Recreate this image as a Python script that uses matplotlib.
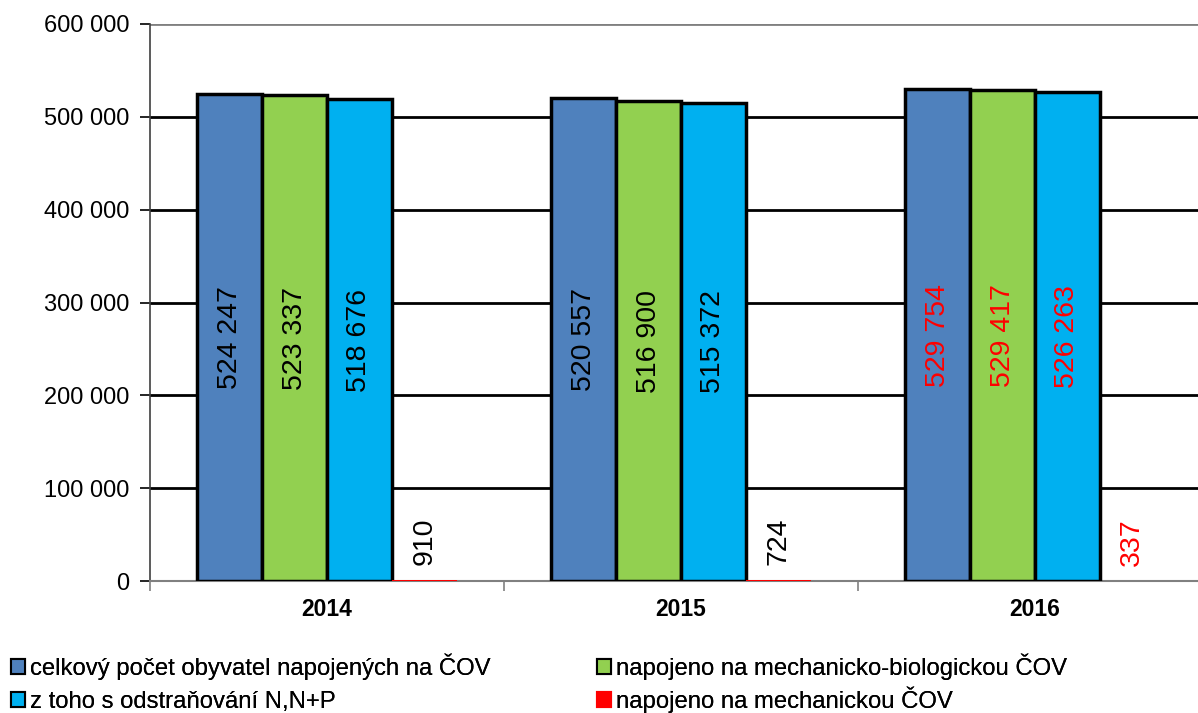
import matplotlib
matplotlib.use("Agg")
import matplotlib.pyplot as plt
import numpy as np
from matplotlib.patches import Patch

plt.rcParams['font.family'] = ['Liberation Sans', 'DejaVu Sans']

years = ['2014', '2015', '2016']
series_names = ['celkový počet obyvatel napojených na ČOV',
                'napojeno na mechanicko-biologickou ČOV',
                'z toho s odstraňování N,N+P',
                'napojeno na mechanickou ČOV']
total = [524247, 520557, 529754]
mech_bio = [523337, 516900, 529417]
n_np = [518676, 515372, 526263]
mech = [910, 724, 337]
colors = ['#4F81BD', '#92D050', '#00B0F0', '#FF0000']
label_colors = ['black', 'black', 'red']

def fmt(v):
    return f"{v:,}".replace(",", " ")

fig = plt.figure(figsize=(11.98, 7.13), dpi=100)
W, H = 1198, 713
ax = fig.add_axes([150 / W, 1 - 581 / H, (1212 - 150) / W, (581 - 24) / H])

x = np.arange(len(years))
w = 0.183
data = [total, mech_bio, n_np, mech]
for i, (vals, c) in enumerate(zip(data, colors)):
    pos = x + (i - 1.5) * w
    ec = 'black' if i < 3 else 'none'
    ax.bar(pos, vals, w, color=c, edgecolor=ec, linewidth=2.5, zorder=3)
    for j, (p, v) in enumerate(zip(pos, vals)):
        if i < 3:
            ax.text(p, v / 2, fmt(v), rotation=90, ha='center', va='center',
                    fontsize=20.5, color=label_colors[j], zorder=4)
        else:
            ax.text(p, v + 16000, fmt(v), rotation=90, ha='center', va='bottom',
                    fontsize=20.5, color=label_colors[j], zorder=4)

ax.set_ylim(0, 600000)
ax.set_xlim(-0.5, 2.5)
ax.set_yticks(range(0, 600001, 100000))
ax.set_yticklabels([fmt(v) for v in range(0, 600001, 100000)], fontsize=17)
for yv in range(100000, 600000, 100000):
    ax.axhline(yv, color='black', lw=2, zorder=1)
ax.axhline(600000, color='#808080', lw=2, zorder=1)

ax.set_xticks(x)
ax.set_xticklabels(years, fontsize=16.5, fontweight='bold')
ax.tick_params(axis='x', length=0, pad=12)
ax.set_xticks(np.arange(-0.5, 3, 1), minor=True)
ax.tick_params(axis='x', which='minor', length=7, color='#808080', width=1.2)
ax.tick_params(axis='y', length=7, color='black', width=1.2, pad=8)

for s in ['top', 'right']:
    ax.spines[s].set_visible(False)
ax.spines['left'].set_color('#404040')
ax.spines['left'].set_linewidth(1.2)
ax.spines['bottom'].set_color('#808080')
ax.spines['bottom'].set_linewidth(1.5)

handles = [Patch(facecolor=colors[0], edgecolor='black', lw=1.5),
           Patch(facecolor=colors[1], edgecolor='black', lw=1.5),
           Patch(facecolor=colors[2], edgecolor='black', lw=1.5),
           Patch(facecolor=colors[3], edgecolor=colors[3], lw=1.5)]
# legend slot positions (pixels): (left x, centre y)
slots = [(11, 667), (597, 667), (11, 702), (597, 700)]
for k, (px, py) in zip([0, 1, 2, 3], slots):
    leg = fig.legend([handles[k]], [series_names[k]], loc='center left',
                     bbox_to_anchor=(px / W, 1 - py / H), frameon=False,
                     fontsize=17.2, handlelength=0.6, handleheight=0.6,
                     handletextpad=0.2, borderaxespad=0, borderpad=0)
    fig.add_artist(leg)

fig.savefig('out.png', dpi=100)
